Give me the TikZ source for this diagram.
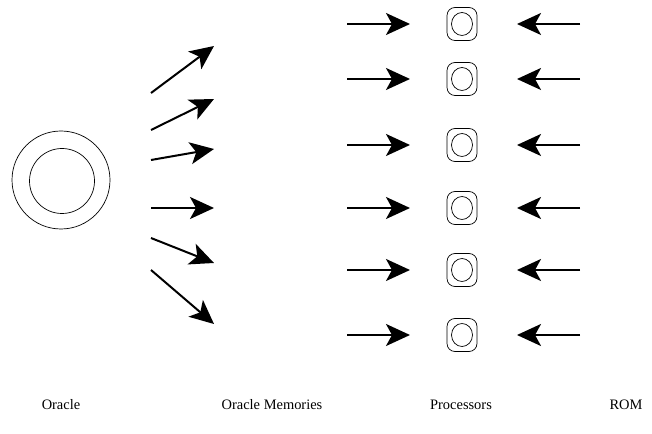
\documentclass[tikz,border=0pt]{standalone}
\usepackage{fontspec}
\setmainfont{Liberation Serif}
\usetikzlibrary{arrows.meta,shapes.geometric}

\tikzset{
  bigarrow/.style={line width=2bp, -{Stealth[length=24bp,width=22bp,inset=6bp]}},
  procbox/.style={draw, line width=0.7bp, rounded corners=8bp, minimum width=30bp, minimum height=33bp},
  proccore/.style={draw, line width=0.7bp, ellipse, minimum width=21bp, minimum height=23bp, inner sep=0pt},
  caption/.style={font=\fontsize{14.5}{17}\selectfont, inner sep=0pt}
}

\begin{document}
\begin{tikzpicture}[x=1bp, y=-1bp]
      \useasboundingbox (0,0) rectangle (652,434);
      % oracle
      \node[circle, draw, line width=0.7bp, minimum size=98bp] (oracle) at (61,180) {};
      \node[circle, draw, line width=0.7bp, minimum size=65bp] (oraclecore) at (62,181) {};
      % oracle memories
      \foreach \i/\sy/\ey in {1/93/46, 2/130/99, 3/160/149, 4/208/208, 5/238/263, 6/270/324} {
        \coordinate (os\i) at (151,\sy);
        \coordinate (om\i) at (214,\ey);
        \draw[bigarrow] (os\i) -- (om\i);
      }
      % processors and ROM
      \foreach \i/\y in {1/24, 2/79, 3/145, 4/208, 5/270, 6/335} {
        \node[procbox] (proc\i) at (462,\y) {};
        \node[proccore] (core\i) at (proc\i) {};
        \coordinate (mem\i) at (347,\y);
        \coordinate (memend\i) at (410,\y);
        \coordinate (rom\i) at (580,\y);
        \coordinate (romend\i) at (517,\y);
        \draw[bigarrow] (mem\i) -- (memend\i);
        \draw[bigarrow] (rom\i) -- (romend\i);
      }
      \node[caption] (oraclelabel) at (61,405) {Oracle};
      \node[caption] (memlabel) at (272,405) {Oracle Memories};
      \node[caption] (proclabel) at (461,405) {Processors};
      \node[caption] (romlabel) at (626,405) {ROM};
\end{tikzpicture}
\end{document}
